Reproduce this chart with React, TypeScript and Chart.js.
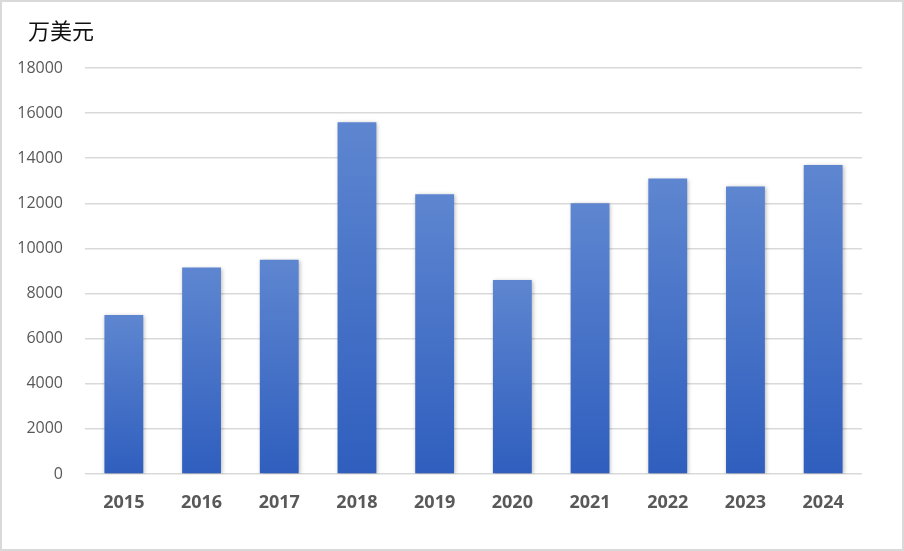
import { useEffect, useRef } from 'react';
import { Chart, registerables, ChartConfiguration, Plugin } from 'chart.js';

Chart.register(...registerables);

const years = ['2015', '2016', '2017', '2018', '2019', '2020', '2021', '2022', '2023', '2024'];
const amounts = [7050, 9150, 9500, 15600, 12400, 8600, 12000, 13100, 12750, 13700];
const unitLabel = '万美元';

const TOP_COLOR = '#5E86D0';
const BOTTOM_COLOR = '#2F5EBE';

// frame, unit label and a soft shadow under the bars
const decor: Plugin<'bar'> = {
  id: 'decor',
  beforeDatasetsDraw(chart) {
    const c = chart.ctx;
    c.save();
    c.shadowColor = 'rgba(0,0,0,0.28)';
    c.shadowBlur = 4;
    c.shadowOffsetX = 1;
    c.shadowOffsetY = 1;
  },
  afterDatasetsDraw(chart) {
    chart.ctx.restore();
  },
  afterDraw(chart) {
    const c = chart.ctx;
    c.save();
    c.strokeStyle = '#d9d9d9';
    c.lineWidth = 2;
    c.strokeRect(1, 1, chart.width - 2, chart.height - 2);
    c.fillStyle = '#111';
    c.font = '22px "Noto Sans CJK SC", sans-serif';
    c.textBaseline = 'middle';
    c.textAlign = 'left';
    c.fillText(unitLabel, 28, 31);
    c.restore();
  },
};

const App = () => {
  const canvasRef = useRef<HTMLCanvasElement | null>(null);
  const chartRef = useRef<Chart | null>(null);

  useEffect(() => {
    document.body.style.margin = '0';
    if (!canvasRef.current) return;
    const ctx = canvasRef.current.getContext('2d');
    if (!ctx) return;
    if (chartRef.current) chartRef.current.destroy();

    const config: ChartConfiguration<'bar'> = {
      type: 'bar',
      data: {
        labels: years,
        datasets: [
          {
            data: amounts,
            barPercentage: 0.5,
            categoryPercentage: 1,
            borderWidth: 0,
            backgroundColor: (context) => {
              const chart = context.chart;
              const y = chart.scales.y;
              if (!chart.chartArea || !y) return TOP_COLOR;
              const top = y.getPixelForValue(context.raw as number);
              const bottom = y.getPixelForValue(0);
              const g = chart.ctx.createLinearGradient(0, top, 0, bottom);
              g.addColorStop(0, TOP_COLOR);
              g.addColorStop(1, BOTTOM_COLOR);
              return g;
            },
          },
        ],
      },
      options: {
        responsive: false,
        animation: false,
        devicePixelRatio: 1,
        layout: { padding: { top: 68, left: 0, right: 42, bottom: 0 } },
        plugins: {
          legend: { display: false },
          tooltip: { enabled: false },
        },
        scales: {
          x: {
            afterFit: (scale) => {
              scale.height = 77;
            },
            grid: { display: false, drawTicks: false },
            border: { display: false },
            ticks: {
              padding: 18,
              color: '#595959',
              font: { family: '"Open Sans", "Liberation Sans", sans-serif', size: 18, weight: 'bold' },
            },
          },
          y: {
            min: 0,
            max: 18000,
            afterFit: (scale) => {
              scale.width = 85;
            },
            grid: { color: '#d9d9d9', lineWidth: 1.5, drawTicks: false },
            border: { display: false },
            ticks: {
              stepSize: 2000,
              padding: 22,
              color: '#595959',
              font: { family: '"Open Sans", "Liberation Sans", sans-serif', size: 16 },
              callback: (value) => String(value),
            },
          },
        },
      },
      plugins: [decor],
    };

    chartRef.current = new Chart(ctx, config);
    return () => {
      if (chartRef.current) {
        chartRef.current.destroy();
        chartRef.current = null;
      }
    };
  }, []);

  return (
    <div style={{ position: 'absolute', left: 0, top: 0, width: 904, height: 551, background: '#fff' }}>
      <canvas ref={canvasRef} width={904} height={551} />
    </div>
  );
};

export default App;
